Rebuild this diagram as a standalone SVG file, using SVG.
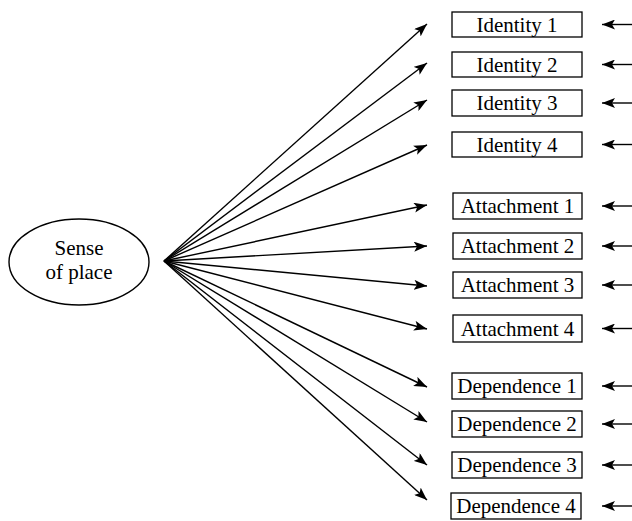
<svg xmlns="http://www.w3.org/2000/svg" width="632" height="521" viewBox="0 0 632 521">
<style>
.box{fill:#fff;stroke:#000;stroke-width:1.3}
.t{font-family:"Liberation Serif","Times New Roman",serif;font-size:21px;fill:#000;text-anchor:middle}
.c{stroke:#000;stroke-width:1.4;fill:none;marker-end:url(#ah)}
</style>
<defs>
<marker id="ah" markerUnits="userSpaceOnUse" markerWidth="14" markerHeight="10" refX="13" refY="5" orient="auto">
<path d="M0,0 L13,5 L0,10 L3,5 Z" fill="#000"/>
</marker>
</defs>
<rect width="632" height="521" fill="#fff"/>
<g id="sense">
<ellipse cx="79" cy="262" rx="70" ry="43" fill="#fff" stroke="#000" stroke-width="1.4"/>
<text class="t" x="79" y="255">Sense</text>
<text class="t" x="79" y="279">of place</text>
</g>
<g id="identity1"><rect class="box" x="452" y="12" width="130" height="25"/><text class="t" x="517" y="31.5">Identity 1</text></g>
<g id="identity2"><rect class="box" x="452" y="52" width="130" height="25"/><text class="t" x="517" y="71.5">Identity 2</text></g>
<g id="identity3"><rect class="box" x="452" y="90" width="130" height="26"/><text class="t" x="517" y="110">Identity 3</text></g>
<g id="identity4"><rect class="box" x="452" y="132" width="130" height="25"/><text class="t" x="517" y="151.5">Identity 4</text></g>
<g id="attachment1"><rect class="box" x="453" y="193" width="129" height="26"/><text class="t" x="517.5" y="213">Attachment 1</text></g>
<g id="attachment2"><rect class="box" x="453" y="233" width="129" height="26"/><text class="t" x="517.5" y="253">Attachment 2</text></g>
<g id="attachment3"><rect class="box" x="453" y="272" width="129" height="26"/><text class="t" x="517.5" y="292">Attachment 3</text></g>
<g id="attachment4"><rect class="box" x="453" y="315" width="129" height="27"/><text class="t" x="517.5" y="335.5">Attachment 4</text></g>
<g id="dependence1"><rect class="box" x="452" y="373" width="130" height="26"/><text class="t" x="517" y="393">Dependence 1</text></g>
<g id="dependence2"><rect class="box" x="452" y="411" width="130" height="26"/><text class="t" x="517" y="431">Dependence 2</text></g>
<g id="dependence3"><rect class="box" x="452" y="452" width="130" height="26"/><text class="t" x="517" y="472">Dependence 3</text></g>
<g id="dependence4"><rect class="box" x="451" y="493" width="130" height="26"/><text class="t" x="516" y="513">Dependence 4</text></g>
<g id="connectors">
<line class="c" x1="164" y1="261" x2="427" y2="24"/>
<line class="c" x1="164" y1="261" x2="427" y2="63"/>
<line class="c" x1="164" y1="261" x2="427" y2="100"/>
<line class="c" x1="164" y1="261" x2="427" y2="145"/>
<line class="c" x1="164" y1="261" x2="427" y2="205"/>
<line class="c" x1="164" y1="261" x2="427" y2="246"/>
<line class="c" x1="164" y1="261" x2="427" y2="286"/>
<line class="c" x1="164" y1="261" x2="427" y2="329"/>
<line class="c" x1="164" y1="261" x2="427" y2="387"/>
<line class="c" x1="164" y1="261" x2="427" y2="422"/>
<line class="c" x1="164" y1="261" x2="427" y2="465"/>
<line class="c" x1="164" y1="261" x2="427" y2="500"/>
<line class="c" x1="632" y1="24.5" x2="602" y2="24.5"/>
<line class="c" x1="632" y1="64.5" x2="602" y2="64.5"/>
<line class="c" x1="632" y1="103" x2="602" y2="103"/>
<line class="c" x1="632" y1="144.5" x2="602" y2="144.5"/>
<line class="c" x1="632" y1="206" x2="602" y2="206"/>
<line class="c" x1="632" y1="246" x2="602" y2="246"/>
<line class="c" x1="632" y1="285" x2="602" y2="285"/>
<line class="c" x1="632" y1="328.5" x2="602" y2="328.5"/>
<line class="c" x1="632" y1="386" x2="602" y2="386"/>
<line class="c" x1="632" y1="424" x2="602" y2="424"/>
<line class="c" x1="632" y1="465" x2="602" y2="465"/>
<line class="c" x1="632" y1="506" x2="602" y2="506"/>
</g>
</svg>
